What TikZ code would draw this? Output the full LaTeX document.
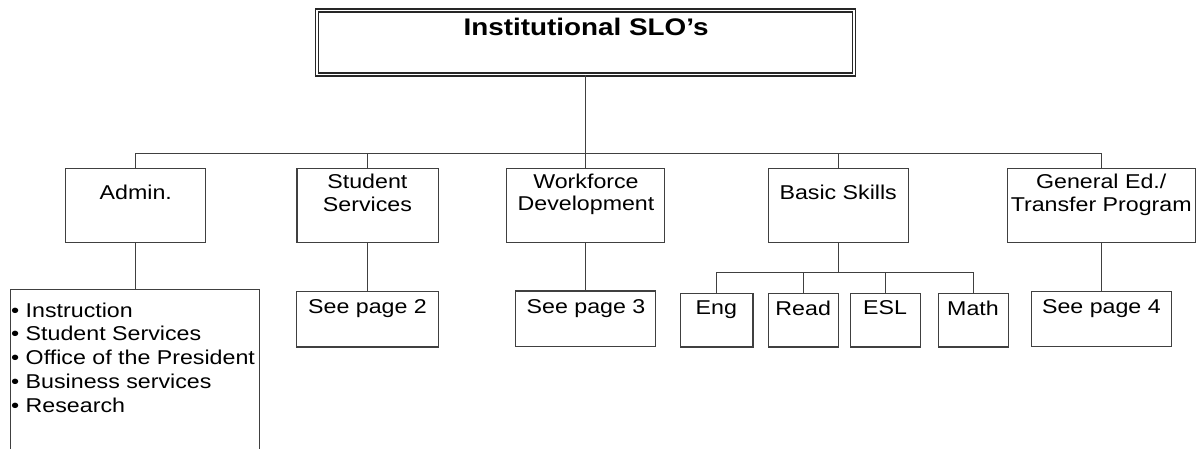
\documentclass[tikz,border=0pt]{standalone}
\usepackage{fontspec}
\setmainfont{Liberation Sans}[FakeStretch=1.16]

\tikzset{
  unit/.style={draw=black!75, line width=1.3pt, minimum height=74pt, inner sep=0pt},
  leaf/.style={draw=black!75, line width=1.3pt, minimum height=55.5pt, inner sep=0pt},
  tag/.style={anchor=north, align=center, inner sep=0pt, font=\fontsize{20}{22.7}\selectfont},
  wire/.style={draw=black!75, line width=1.3pt}
}

\begin{document}
\begin{tikzpicture}[x=1pt, y=-1pt]
  \path[use as bounding box] (0,0) rectangle (1197,448);
  \clip (0,0) rectangle (1197,448);

  % head
  \node[draw=black!85, line width=1.2pt, double, double distance=1.8pt,
        minimum width=537pt, minimum height=64pt] (slo) at (585.5,42.5) {};
  \node[tag, font=\bfseries\fontsize{24}{28}\selectfont] (slotxt) at (586,18.3) {Institutional SLO’s};

  % second row
  \node[unit, minimum width=140.3pt] (adm) at (135.5,205.3) {};
  \node[unit, minimum width=141.3pt] (stu) at (367.5,205.5) {};
  \node[unit, minimum width=158pt]   (wfd) at (585.5,205.5) {};
  \node[unit, minimum width=140pt]   (bas) at (838.5,205.5) {};
  \node[unit, minimum width=187.5pt] (gen) at (1101.5,205.5) {};
  \node[tag] (admtxt) at (135.8,184.7) {Admin.};
  \node[tag] (stutxt) at (367.4,174)   {Student\\Services};
  \node[tag] (wfdtxt) at (586,173.5)   {Workforce\\Development};
  \node[tag] (bastxt) at (838.2,184.7) {Basic Skills};
  \node[tag] (gentxt) at (1101.2,174)  {General Ed./\\Transfer Program};

  % third row
  \node[leaf, minimum width=249pt, minimum height=190pt, anchor=north] (lst) at (134.8,289) {};
  \node[anchor=north west, align=left, inner sep=0pt, font=\fontsize{20}{23.75}\selectfont]
    (lsttxt) at (11,302.4)
    {• Instruction\\• Student Services\\• Office of the President\\• Business services\\• Research};
  \node[leaf, minimum width=141.6pt] (sp2) at (367.5,319.3)  {};
  \node[leaf, minimum width=140.3pt] (sp3) at (585.5,318.7)  {};
  \node[leaf, minimum width=140pt]   (sp4) at (1101.5,318.9) {};
  \node[leaf, minimum width=72.7pt, minimum height=53.7pt] (eng) at (716.5,320.2) {};
  \node[leaf, minimum width=70.3pt, minimum height=53.7pt] (rea) at (803.5,320.2) {};
  \node[leaf, minimum width=70pt,   minimum height=53.7pt] (esl) at (885.5,320.2) {};
  \node[leaf, minimum width=70.6pt, minimum height=53.7pt] (mat) at (973.5,320.2) {};
  \node[tag] (sp2txt) at (367.5,299)   {See page 2};
  \node[tag] (sp3txt) at (586,299)     {See page 3};
  \node[tag] (sp4txt) at (1101.4,299)  {See page 4};
  \node[tag] (engtxt) at (716.3,300.7) {Eng};
  \node[tag] (reatxt) at (803.2,300.7) {Read};
  \node[tag] (esltxt) at (885,300.7)   {ESL};
  \node[tag] (mattxt) at (973,300.7)   {Math};

  % connectors
  \coordinate (bus) at (585.5,153.5);
  \coordinate (sub) at (838.5,272.5);
  \draw[wire] (slo) -- (wfd);
  \draw[wire] (adm.north) |- (bus) -| (gen.north);
  \draw[wire] (stu.north) -- (stu.north |- bus);
  \draw[wire] (bas.north) -- (bas.north |- bus);
  \draw[wire] (adm.south) -- (adm.south |- lst.north);
  \draw[wire] (stu.south) -- (stu.south |- sp2.north);
  \draw[wire] (wfd.south) -- (wfd.south |- sp3.north);
  \draw[wire] (gen.south) -- (gen.south |- sp4.north);
  \draw[wire] (bas.south) -- (sub);
  \draw[wire] (eng.north) |- (sub) -| (mat.north);
  \draw[wire] (rea.north) -- (rea.north |- sub);
  \draw[wire] (esl.north) -- (esl.north |- sub);
\end{tikzpicture}
\end{document}
